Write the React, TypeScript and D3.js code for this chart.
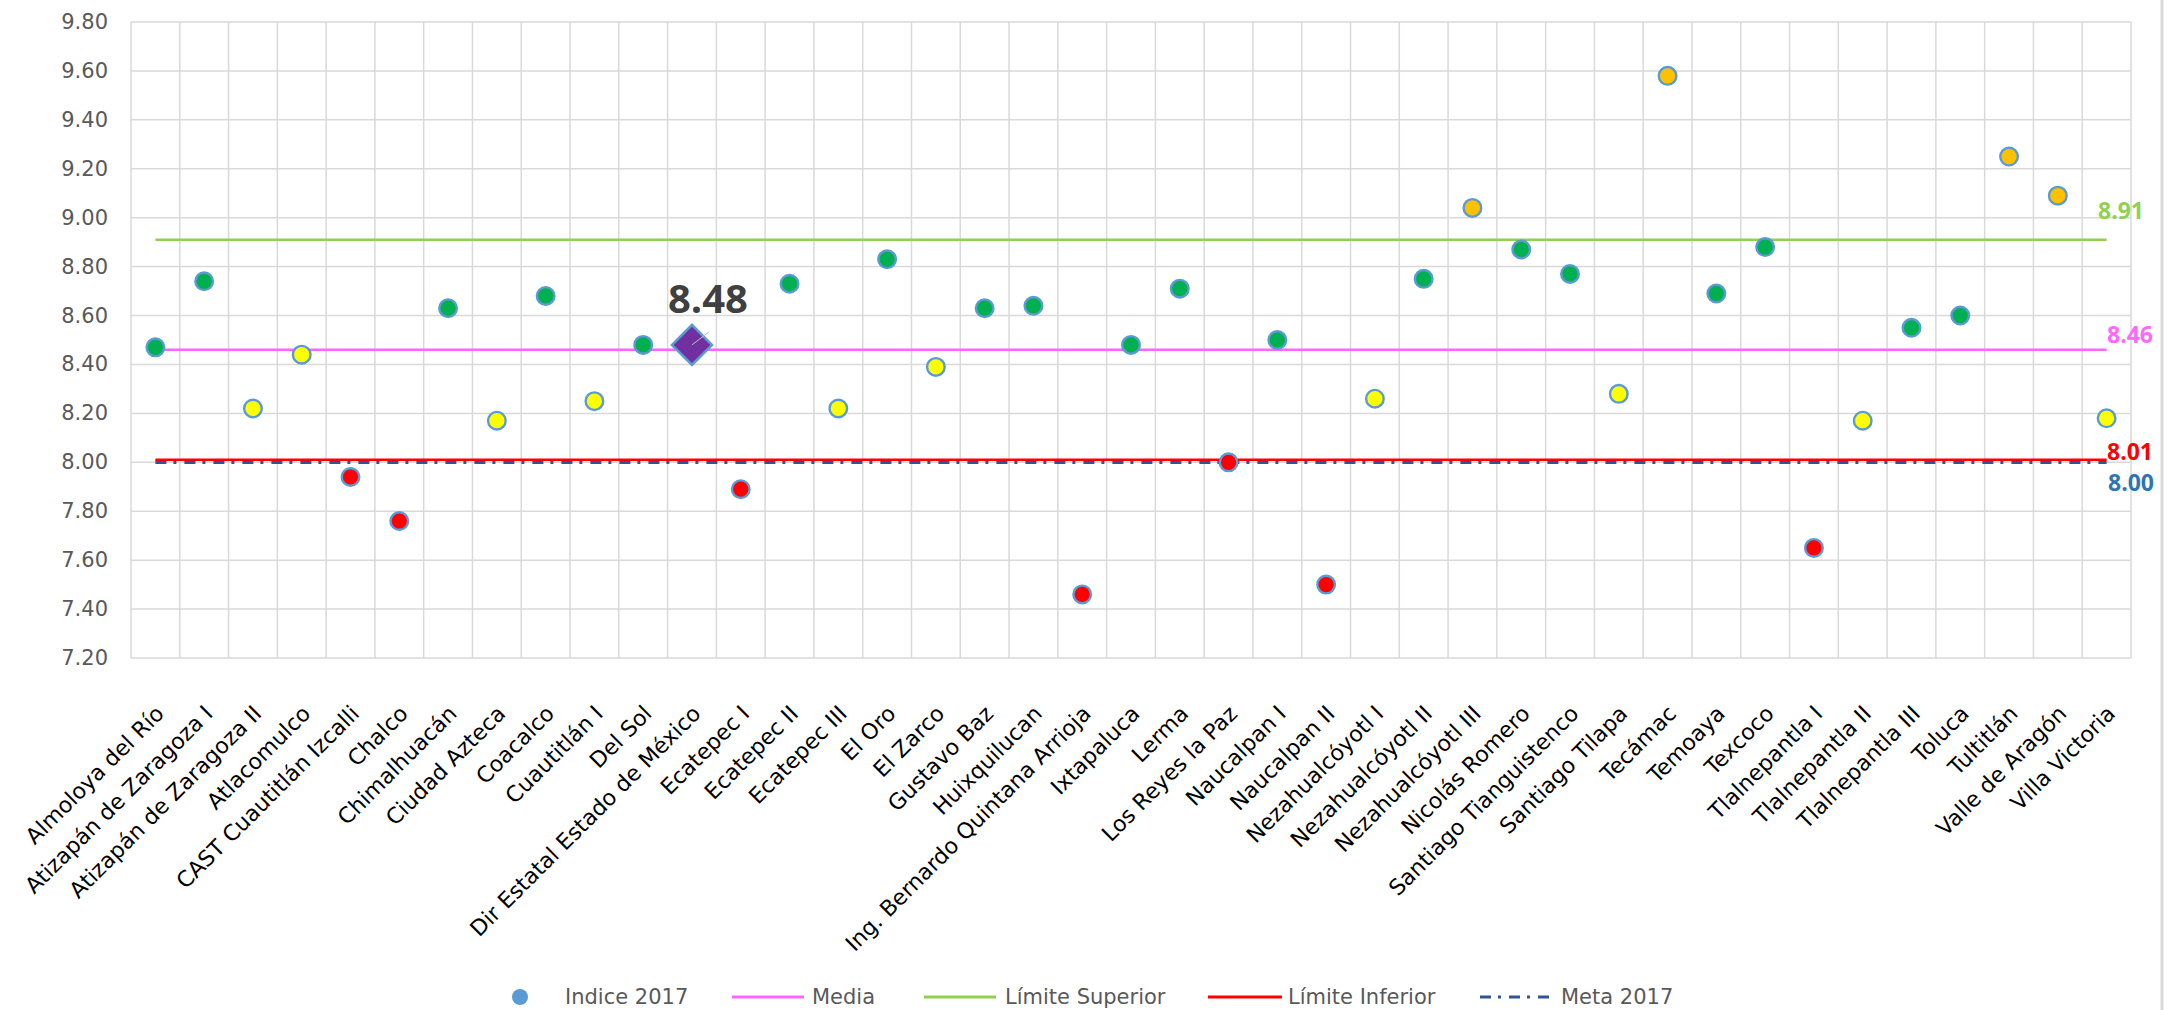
import React from 'react';
import * as d3 from 'd3';

const CATEGORIES = [
  'Almoloya del Río', 'Atizapán de Zaragoza I', 'Atizapán de Zaragoza II', 'Atlacomulco',
  'CAST Cuautitlán Izcalli', 'Chalco', 'Chimalhuacán', 'Ciudad Azteca', 'Coacalco',
  'Cuautitlán I', 'Del Sol', 'Dir Estatal Estado de México', 'Ecatepec I', 'Ecatepec II',
  'Ecatepec III', 'El Oro', 'El Zarco', 'Gustavo Baz', 'Huixquilucan',
  'Ing. Bernardo Quintana Arrioja', 'Ixtapaluca', 'Lerma', 'Los Reyes la Paz', 'Naucalpan I',
  'Naucalpan II', 'Nezahualcóyotl I', 'Nezahualcóyotl II', 'Nezahualcóyotl III',
  'Nicolás Romero', 'Santiago Tianguistenco', 'Santiago Tilapa', 'Tecámac', 'Temoaya',
  'Texcoco', 'Tlalnepantla I', 'Tlalnepantla II', 'Tlalnepantla III', 'Toluca', 'Tultitlán',
  'Valle de Aragón', 'Villa Victoria',
];

const INDICE_2017 = [
  8.47, 8.74, 8.22, 8.44, 7.94, 7.76, 8.63, 8.17, 8.68, 8.25, 8.48, 8.48, 7.89, 8.73, 8.22,
  8.83, 8.39, 8.63, 8.64, 7.46, 8.48, 8.71, 8.0, 8.5, 7.5, 8.26, 8.75, 9.04, 8.87, 8.77, 8.28,
  9.58, 8.69, 8.88, 7.65, 8.17, 8.55, 8.6, 9.25, 9.09, 8.18,
];

const HIGHLIGHT = 'Dir Estatal Estado de México';

const MEDIA = 8.46;
const LIMITE_SUPERIOR = 8.91;
const LIMITE_INFERIOR = 8.01;
const META_2017 = 8.0;

const Y_DOMAIN = [7.2, 9.8];

const FONT = "'DejaVu Sans', sans-serif";
const BOLD_FONT = "'Open Sans', sans-serif";

const pointColor = (v: number) => {
  if (v > LIMITE_SUPERIOR) return '#FFC000';
  if (v >= MEDIA) return '#00B050';
  if (v >= LIMITE_INFERIOR) return '#FFFF00';
  return '#FF0000';
};

export default function App() {
  const width = 2175;
  const height = 1010;
  const plot = { left: 131, right: 2131, top: 22, bottom: 658 };

  const x = d3.scaleBand<string>().domain(CATEGORIES).range([plot.left, plot.right]);
  const y = d3.scaleLinear().domain(Y_DOMAIN).range([plot.bottom, plot.top]);
  const bw = x.bandwidth();
  const cx = (c: string) => (x(c) || 0) + bw / 2;
  const yTicks = y.ticks(13);
  const fmt = d3.format('.2f');

  const x0 = cx(CATEGORIES[0]);
  const x1 = cx(CATEGORIES[CATEGORIES.length - 1]);

  // drawn bottom to top: meta sits under the red limit line
  const refLines = [
    { v: META_2017, color: '#2F5597', width: 3.5, dash: '11,7,3,8' },
    { v: LIMITE_INFERIOR, color: '#FF0000', width: 2.5, dash: undefined },
    { v: MEDIA, color: '#FF66FF', width: 2.5, dash: undefined },
    { v: LIMITE_SUPERIOR, color: '#92D050', width: 2.5, dash: undefined },
  ];

  const hx = cx(HIGHLIGHT);
  const hv = INDICE_2017[CATEGORIES.indexOf(HIGHLIGHT)];
  const hy = y(hv);
  const square = d3.symbol(d3.symbolSquare, 800)() || '';

  const legendY = 997;

  return (
    <svg
      width={width}
      height={height}
      style={{ position: 'absolute', left: 0, top: 0, background: '#fff' }}
    >
      <rect x={0} y={0} width={width} height={height} fill="#fff" />
      <line x1={2162} x2={2162} y1={0} y2={height} stroke="#D9D9D9" strokeWidth={3} />

      {/* grid */}
      {yTicks.map((t) => (
        <line
          key={'h' + t}
          x1={plot.left}
          x2={plot.right}
          y1={y(t)}
          y2={y(t)}
          stroke="#D9D9D9"
          strokeWidth={1.5}
        />
      ))}
      {CATEGORIES.map((c) => (
        <line
          key={'v' + c}
          x1={x(c)}
          x2={x(c)}
          y1={plot.top}
          y2={plot.bottom}
          stroke="#D9D9D9"
          strokeWidth={1.5}
        />
      ))}
      <line x1={plot.right} x2={plot.right} y1={plot.top} y2={plot.bottom} stroke="#D9D9D9" strokeWidth={1.5} />

      {/* y tick labels */}
      {yTicks.map((t) => (
        <text
          key={'t' + t}
          x={108}
          y={y(t)}
          textAnchor="end"
          dominantBaseline="central"
          fontFamily={FONT}
          fontSize={21}
          fill="#595959"
        >
          {fmt(t)}
        </text>
      ))}

      {/* category labels */}
      {CATEGORIES.map((c) => (
        <text
          key={'c' + c}
          transform={`translate(${cx(c) + 10}, ${plot.bottom + 57}) rotate(-45)`}
          textAnchor="end"
          fontFamily={FONT}
          fontSize={22}
          fill="#000"
        >
          {c}
        </text>
      ))}

      {/* reference lines */}
      {refLines.map((l) => (
        <line
          key={'r' + l.v}
          x1={x0}
          x2={x1}
          y1={y(l.v)}
          y2={y(l.v)}
          stroke={l.color}
          strokeWidth={l.width}
          strokeDasharray={l.dash}
        />
      ))}

      {/* reference labels */}
      <text x={2098} y={y(LIMITE_SUPERIOR) - 21} fontFamily={BOLD_FONT} fontWeight={700} fontSize={23} fill="#92D050">
        {fmt(LIMITE_SUPERIOR)}
      </text>
      <text x={2107} y={y(MEDIA) - 7} fontFamily={BOLD_FONT} fontWeight={700} fontSize={23} fill="#FF66FF">
        {fmt(MEDIA)}
      </text>
      <text x={2107} y={y(LIMITE_INFERIOR)} fontFamily={BOLD_FONT} fontWeight={700} fontSize={23} fill="#FF0000">
        {fmt(LIMITE_INFERIOR)}
      </text>
      <text x={2108} y={y(META_2017) + 29} fontFamily={BOLD_FONT} fontWeight={700} fontSize={23} fill="#2E75B6">
        {fmt(META_2017)}
      </text>

      {/* points */}
      {CATEGORIES.map((c, i) =>
        c === HIGHLIGHT ? null : (
          <circle
            key={'p' + c}
            cx={cx(c)}
            cy={y(INDICE_2017[i])}
            r={8.8}
            fill={pointColor(INDICE_2017[i])}
            stroke="#5B9BD5"
            strokeWidth={2.4}
          />
        )
      )}

      {/* highlighted point */}
      <path
        d={square}
        transform={`translate(${hx}, ${hy}) rotate(45)`}
        fill="#7030A0"
        stroke="#5B9BD5"
        strokeWidth={2.5}
      />
      <line x1={hx} y1={hy} x2={hx + 17} y2={hy - 13} stroke="#BFBFBF" strokeWidth={1} />
      <text
        x={hx + 16}
        y={hy - 32}
        textAnchor="middle"
        fontFamily={BOLD_FONT}
        fontWeight={700}
        fontSize={40}
        fill="#404040"
      >
        {fmt(hv)}
      </text>

      {/* legend */}
      <g fontFamily={FONT} fontSize={21} fill="#595959">
        <circle cx={520} cy={legendY} r={8} fill="#5B9BD5" />
        <text x={565} y={legendY} dominantBaseline="central">Indice 2017</text>
        <line x1={732} x2={804} y1={legendY} y2={legendY} stroke="#FF66FF" strokeWidth={3} />
        <text x={812} y={legendY} dominantBaseline="central">Media</text>
        <line x1={924} x2={996} y1={legendY} y2={legendY} stroke="#92D050" strokeWidth={3} />
        <text x={1005} y={legendY} dominantBaseline="central">Límite Superior</text>
        <line x1={1208} x2={1282} y1={legendY} y2={legendY} stroke="#FF0000" strokeWidth={3} />
        <text x={1288} y={legendY} dominantBaseline="central">Límite Inferior</text>
        <line
          x1={1480}
          x2={1552}
          y1={legendY}
          y2={legendY}
          stroke="#2F5597"
          strokeWidth={3}
          strokeDasharray="11,7,3,8"
        />
        <text x={1561} y={legendY} dominantBaseline="central">Meta 2017</text>
      </g>
    </svg>
  );
}
